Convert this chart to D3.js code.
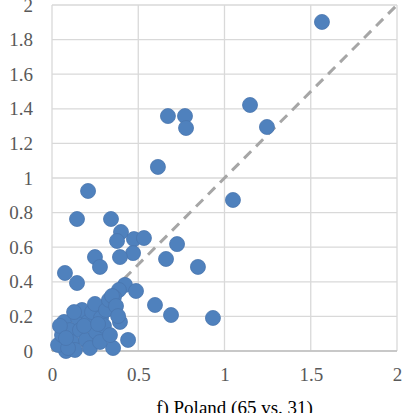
<!DOCTYPE html>
<html>
<head>
<meta charset="utf-8">
<script src="https://cdn.jsdelivr.net/npm/d3@7"></script>
<style>
  body { margin: 0; background: #fff; }
  svg { display: block; }
</style>
</head>
<body>
<div id="chart"></div>
<script>
// values
const xVals = [1.565, 1.148, 1.246, 0.771, 0.672, 0.777, 0.614, 0.209, 1.049, 0.145,
    0.342, 0.400, 0.377, 0.475, 0.533, 0.725, 0.661, 0.470, 0.394, 0.249,
    0.846, 0.278, 0.075, 0.145, 0.423, 0.388, 0.359, 0.487, 0.597, 0.690,
    0.933, 0.394, 0.441, 0.354, 0.081,
    0.035, 0.058, 0.070, 0.104, 0.116, 0.133, 0.151, 0.162, 0.174, 0.197,
    0.209, 0.220, 0.232, 0.249, 0.255, 0.278, 0.284, 0.301, 0.313, 0.330,
    0.348, 0.371, 0.383, 0.336, 0.186, 0.093, 0.046, 0.128, 0.267, 0.081];
const yVals = [1.902, 1.422, 1.295, 1.358, 1.358, 1.289, 1.064, 0.925, 0.873, 0.763,
    0.763, 0.688, 0.636, 0.647, 0.653, 0.618, 0.532, 0.566, 0.543, 0.543,
    0.486, 0.486, 0.451, 0.393, 0.382, 0.353, 0.312, 0.347, 0.266, 0.208,
    0.191, 0.168, 0.064, 0.017, 0.000,
    0.035, 0.092, 0.168, 0.121, 0.052, 0.006, 0.191, 0.121, 0.237, 0.064,
    0.168, 0.017, 0.225, 0.272, 0.110, 0.052, 0.191, 0.145, 0.237, 0.295,
    0.318, 0.260, 0.202, 0.092, 0.145, 0.017, 0.145, 0.225, 0.156, 0.075];
const xTicks = [0, 0.5, 1, 1.5, 2];
const yTicks = [0, 0.2, 0.4, 0.6, 0.8, 1, 1.2, 1.4, 1.6, 1.8, 2];
const title = "f) Poland (65 vs. 31)";

const data = xVals.map((v, i) => ({x: v, y: yVals[i]}));

const W = 406, H = 413;
const margin = {top: 5, right: 9, bottom: 62, left: 52};
const width = W - margin.left - margin.right,
    height = H - margin.top - margin.bottom;
const serif = "'Liberation Serif', 'Times New Roman', serif";

const svg = d3.select("#chart")
    .append("svg")
    .attr("width", W)
    .attr("height", H)
    .append("g")
    .attr("transform", `translate(${margin.left},${margin.top})`);

const x = d3.scaleLinear().domain([0, 2]).range([0, width]);
const y = d3.scaleLinear().domain([0, 2]).range([height, 0]);

// gridlines
svg.append("g")
    .selectAll("line")
    .data(xTicks)
    .join("line")
    .attr("x1", d => x(d)).attr("x2", d => x(d))
    .attr("y1", 0).attr("y2", height)
    .attr("stroke", "#d9d9d9")
    .attr("stroke-width", 1.3);

svg.append("g")
    .selectAll("line")
    .data(yTicks)
    .join("line")
    .attr("x1", 0).attr("x2", width)
    .attr("y1", d => y(d)).attr("y2", d => y(d))
    .attr("stroke", "#d9d9d9")
    .attr("stroke-width", 1.3);

// bottom axis line
svg.append("line")
    .attr("x1", 0).attr("x2", width)
    .attr("y1", height).attr("y2", height)
    .attr("stroke", "#bfbfbf")
    .attr("stroke-width", 1.3);

// axes (labels only)
const xAxis = svg.append("g")
    .attr("transform", `translate(0,${height})`)
    .call(d3.axisBottom(x).tickValues(xTicks).tickSize(0).tickPadding(17).tickFormat(d3.format("")));
const yAxis = svg.append("g")
    .call(d3.axisLeft(y).tickValues(yTicks).tickSize(0).tickPadding(19).tickFormat(d3.format("")));

[xAxis, yAxis].forEach(a => {
    a.attr("font-family", null).attr("font-size", null);
    a.select(".domain").remove();
    a.selectAll("text")
        .style("font-family", serif)
        .style("font-size", "19px")
        .attr("fill", "#595959");
});

// diagonal y = x
svg.append("line")
    .attr("x1", x(0)).attr("y1", y(0))
    .attr("x2", x(2)).attr("y2", y(2))
    .attr("stroke", "#a6a6a6")
    .attr("stroke-width", 3)
    .attr("stroke-dasharray", "10,7");

// points
svg.append("g")
    .selectAll("circle")
    .data(data)
    .join("circle")
    .attr("cx", d => x(d.x))
    .attr("cy", d => y(d.y))
    .attr("r", 7.5)
    .attr("fill", "#4f81bd")
    .attr("stroke", "#4a76ae")
    .attr("stroke-width", 0.8);

// caption
svg.append("text")
    .attr("x", width / 2 + 10)
    .attr("y", height + 63)
    .attr("text-anchor", "middle")
    .style("font-family", serif)
    .style("font-size", "19px")
    .attr("fill", "#000")
    .text(title);
</script>
</body>
</html>
